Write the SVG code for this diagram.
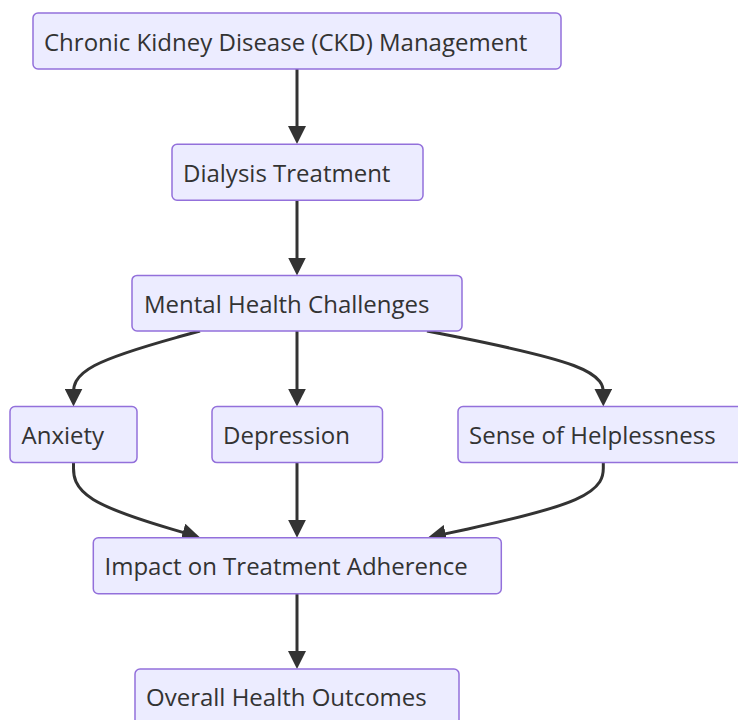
<svg xmlns="http://www.w3.org/2000/svg" width="738" height="720" viewBox="0 0 738 720">
  <style>
    .node rect { fill: #ECECFF; stroke: #9370DB; stroke-width: 1.5; }
    .node text { font-family: "Open Sans", "Liberation Sans", sans-serif; font-size: 24px; fill: #333333; }
    .edge { fill: none; stroke: #333333; stroke-width: 3; }
  </style>
  <defs>
    <marker id="arrow" viewBox="0 0 10 10" refX="5" refY="5" markerWidth="18" markerHeight="18" markerUnits="userSpaceOnUse" orient="auto">
      <path d="M0,0 L10,5 L0,10 z" fill="#333333"/>
    </marker>
  </defs>
  <rect width="738" height="720" fill="#ffffff"/>

  <g id="connectors">
    <path class="edge" marker-end="url(#arrow)" d="M297,69 L297,135"/>
    <path class="edge" marker-end="url(#arrow)" d="M297,200 L297,266.5"/>
    <path class="edge" marker-end="url(#arrow)" d="M200,331 L178.9,336.8 C157.8,342.7 115.7,354.3 94.6,365.5 C73.5,376.7 73.5,387.3 73.5,392.7 L73.5,397.6"/>
    <path class="edge" marker-end="url(#arrow)" d="M297,331 L297,397.6"/>
    <path class="edge" marker-end="url(#arrow)" d="M427,331 L456.3,336.8 C485.7,342.7 544.3,354.3 573.7,365.5 C603.3,376.7 603.3,387.3 603.3,392.7 L603.3,397.6"/>
    <path class="edge" marker-end="url(#arrow)" d="M73.5,462.5 L73.5,468.3 C73.5,474.7 73.5,487.3 93.2,499.5 C112.8,511.6 152.1,523.3 171.8,529.1 L191.4,534.9"/>
    <path class="edge" marker-end="url(#arrow)" d="M297,462.5 L297,528.8"/>
    <path class="edge" marker-end="url(#arrow)" d="M603.3,462.5 L603.3,468.3 C603.3,474.7 603.3,487.3 575.3,499.6 C547.6,511.9 492.2,523.7 464.5,529.7 L436.8,535.6"/>
    <path class="edge" marker-end="url(#arrow)" d="M297,593.8 L297,660"/>
  </g>

  <g id="ckd" class="node">
    <rect x="33" y="13" width="528" height="56" rx="5"/>
    <text x="44" y="50.5">Chronic Kidney Disease (CKD) Management</text>
  </g>
  <g id="dialysis" class="node">
    <rect x="172" y="144.2" width="251" height="56" rx="5"/>
    <text x="183" y="181.5">Dialysis Treatment</text>
  </g>
  <g id="mental" class="node">
    <rect x="132" y="275.4" width="330" height="55.5" rx="5"/>
    <text x="144" y="312.5">Mental Health Challenges</text>
  </g>
  <g id="anxiety" class="node">
    <rect x="10" y="406.6" width="127" height="56" rx="5"/>
    <text x="21.5" y="443.6">Anxiety</text>
  </g>
  <g id="depression" class="node">
    <rect x="212" y="406.6" width="170.5" height="56" rx="5"/>
    <text x="223" y="443.6">Depression</text>
  </g>
  <g id="helplessness" class="node">
    <rect x="458" y="406.6" width="291" height="56" rx="5"/>
    <text x="469" y="443.6">Sense of Helplessness</text>
  </g>
  <g id="adherence" class="node">
    <rect x="93.3" y="537.8" width="408" height="56" rx="5"/>
    <text x="104.5" y="575">Impact on Treatment Adherence</text>
  </g>
  <g id="outcomes" class="node">
    <rect x="135" y="669" width="324" height="56" rx="5"/>
    <text x="146" y="706">Overall Health Outcomes</text>
  </g>
</svg>
